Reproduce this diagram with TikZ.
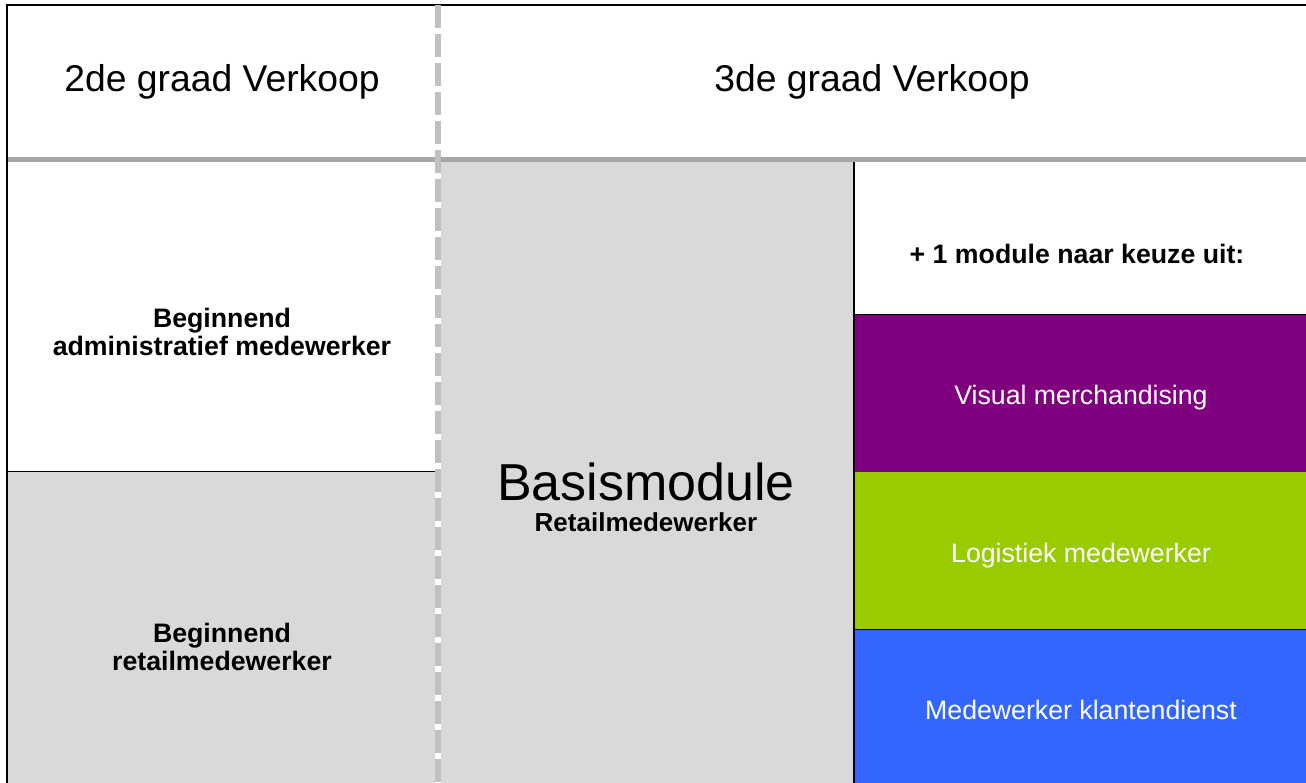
\documentclass[tikz,border=0pt]{standalone}
\usepackage{fontspec}
\setmainfont{Liberation Sans}
\usetikzlibrary{positioning}

\definecolor{cellgrey}{HTML}{D9D9D9}
\definecolor{rulegrey}{HTML}{A6A6A6}
\definecolor{dashgrey}{HTML}{C0C0C0}
\definecolor{vmpurple}{HTML}{800080}
\definecolor{loggreen}{HTML}{99CC00}
\definecolor{kdblue}{HTML}{3366FF}

\tikzset{
  headtext/.style={anchor=base, inner sep=0pt, font=\fontsize{37.3}{44}\selectfont},
  celltext/.style={align=center, inner sep=0pt, font=\fontsize{26.7}{28}\selectfont\bfseries},
  moduletext/.style={anchor=base, inner sep=0pt, text=white, font=\fontsize{26.7}{28}\selectfont},
  blackrule/.style={draw=black, line width=1.3pt},
}

\begin{document}
\begin{tikzpicture}[x=1pt, y=-1pt]
\useasboundingbox (0,0) rectangle (1306,783);
\fill [white] (0,0) rectangle (1306,783);
% cell fills
\fill [cellgrey] (8,472) rectangle (435,783);
\fill [cellgrey] (441,162) rectangle (853,783);
\fill [vmpurple] (855,314) rectangle (1306,472);
\fill [loggreen] (855,472) rectangle (1306,629);
\fill [kdblue] (855,629) rectangle (1306,783);
% rules
\coordinate (tl) at (7,5);
\coordinate (tr) at (1306,5);
\coordinate (bl) at (7,783);
\draw [black, line width=2pt] (bl) -- (tl) -- (tr);
\draw [rulegrey, line width=5pt] (8,159.5) -- (1306,159.5);
\draw [dashgrey, line width=6pt, dash pattern=on 23pt off 6pt] (438,5) -- (438,783);
\draw [black, line width=2pt] (854,162) -- (854,783);
\draw [blackrule] (8,471.5) -- (435,471.5);
\draw [blackrule] (855,314.5) -- (1306,314.5);
\draw [blackrule] (855,629.5) -- (1306,629.5);
% headers
\node (head2) at (222,92) [headtext] {2de graad Verkoop};
\node (head3) at (872,92) [headtext] {3de graad Verkoop};
% left column
\node (admin) at (222,331.5) [celltext] {Beginnend\\administratief medewerker};
\node (retail) at (222,646.5) [celltext] {Beginnend\\retailmedewerker};
% middle column
\node (basis) at (646,500) [anchor=base, inner sep=0pt, font=\fontsize{52}{60}\selectfont] {Basismodule};
\node (basissub) at (646,531) [anchor=base, inner sep=0pt, font=\fontsize{26}{28}\selectfont\bfseries] {Retailmedewerker};
% right column
\node (keuze) at (1077,264) [anchor=base, inner sep=0pt, font=\fontsize{26.7}{28}\selectfont\bfseries] {+ 1 module naar keuze uit:};
\node (visual) at (1081,404.5) [moduletext] {Visual merchandising};
\node (logistiek) at (1081,562) [moduletext] {Logistiek medewerker};
\node (klant) at (1081,719.5) [moduletext] {Medewerker klantendienst};
\end{tikzpicture}
\end{document}
